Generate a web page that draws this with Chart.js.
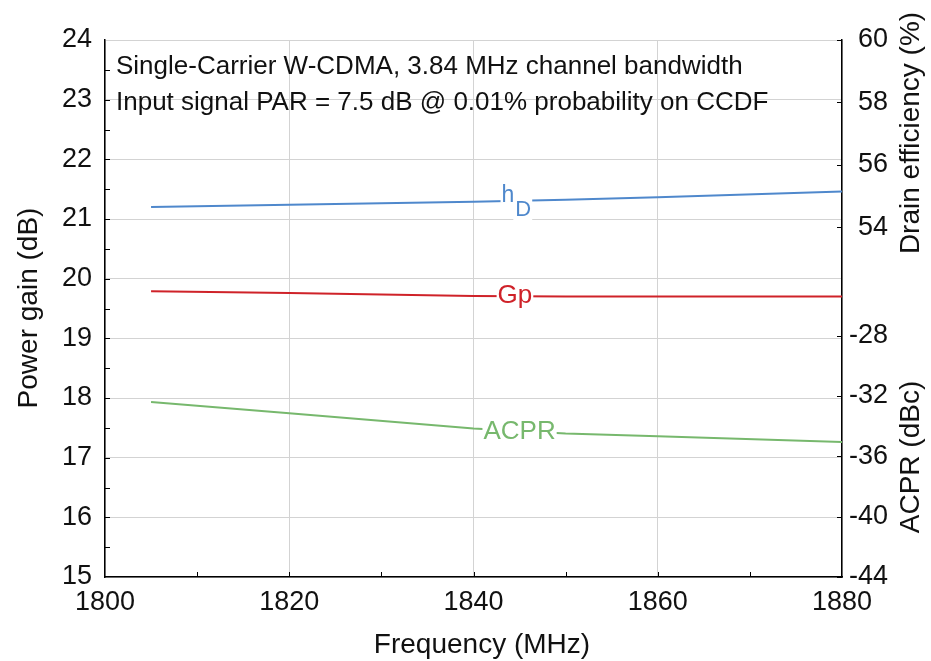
<!DOCTYPE html>
<html>
<head>
<meta charset="utf-8">
<script src="https://cdn.jsdelivr.net/npm/chart.js@4"></script>
<style>
  html, body { margin: 0; padding: 0; background: #fff; }
  #wrap { width: 931px; height: 661px; }
</style>
</head>
<body>
<div id="wrap"><canvas id="myChart" width="931" height="661"></canvas></div>
<script>
// frequency points (MHz)
var freq = [1805, 1820, 1840, 1850, 1860, 1880];
// power gain (dB)
var gain = [19.79, 19.76, 19.71, 19.70, 19.70, 19.70];
// drain efficiency (%)
var efficiency = [54.65, 54.72, 54.82, 54.88, 54.96, 55.15];
// ACPR (dBc)
var acpr = [-32.40, -33.15, -34.15, -34.48, -34.67, -35.05];

var freqTicks = [1800, 1820, 1840, 1860, 1880];
var gainTicks = [15, 16, 17, 18, 19, 20, 21, 22, 23, 24];
var effTicks = [54, 56, 58, 60];
var acprTicks = [-44, -40, -36, -32, -28];

var notes = ['Single-Carrier W-CDMA, 3.84 MHz channel bandwidth',
             'Input signal PAR = 7.5 dB @ 0.01% probability on CCDF'];

var EFF_MIN = 42.8, EFF_MAX = 60;
var ACPR_MIN = -44, ACPR_MAX = -8.4;
function effToAcpr(e) {
    return ACPR_MIN + (e - EFF_MIN) / (EFF_MAX - EFF_MIN) * (ACPR_MAX - ACPR_MIN);
}

var FONT = '"Liberation Sans", Arial, sans-serif';
var blue = '#4f88cc', red = '#cf2229', green = '#77b86d';

function pts(ys) {
    var out = [];
    for (var i = 0; i < freq.length; i++) out.push({x: freq[i], y: ys[i]});
    return out;
}

// y pixel of a dataset line at a given x pixel
function lineY(meta, px) {
    var p = meta.data;
    for (var i = 0; i < p.length - 1; i++) {
        if (px >= p[i].x && px <= p[i + 1].x) {
            var t = (px - p[i].x) / (p[i + 1].x - p[i].x);
            return p[i].y + t * (p[i + 1].y - p[i].y);
        }
    }
    return p[p.length - 1].y;
}

var decor = {
    id: 'decor',
    afterDatasetsDraw: function(chart) {
        var ctx = chart.ctx;
        var a = chart.chartArea;
        var sx = chart.scales.x, sy = chart.scales.y, sr = chart.scales.yR;
        ctx.save();

        // inward minor ticks
        ctx.strokeStyle = '#000';
        ctx.lineWidth = 1;
        ctx.beginPath();
        for (var g = 15.5; g < 24; g += 0.5) {
            var y = Math.round(sy.getPixelForValue(g)) + 0.5;
            ctx.moveTo(a.left, y); ctx.lineTo(a.left + 5, y);
        }
        for (var f = 1810; f < 1880; f += 10) {
            var x = Math.round(sx.getPixelForValue(f)) + 0.5;
            ctx.moveTo(x, a.bottom); ctx.lineTo(x, a.bottom - 5);
        }
        for (var k = 0; k < sr.ticks.length; k++) {
            var yr = Math.round(sr.getPixelForValue(sr.ticks[k].value)) + 0.5;
            ctx.moveTo(a.right, yr); ctx.lineTo(a.right - 5, yr);
        }
        ctx.stroke();

        ctx.textBaseline = 'alphabetic';
        ctx.font = '26px ' + FONT;

        // Gp
        var gx = sx.getPixelForValue(1844.5);
        var gy = lineY(chart.getDatasetMeta(0), gx);
        var w = ctx.measureText('Gp').width;
        ctx.fillStyle = '#fff';
        ctx.fillRect(gx - w / 2 - 1, gy - 12, w + 2, 26);
        ctx.fillStyle = red;
        ctx.textAlign = 'center';
        ctx.fillText('Gp', gx, gy + 7);

        // ACPR
        var ax = sx.getPixelForValue(1845);
        var ay = lineY(chart.getDatasetMeta(2), ax);
        var wa = ctx.measureText('ACPR').width;
        ctx.fillStyle = '#fff';
        ctx.fillRect(ax - wa / 2 - 1, ay - 12, wa + 2, 26);
        ctx.fillStyle = green;
        ctx.fillText('ACPR', ax, ay + 8);

        // hD (efficiency)
        var ex = sx.getPixelForValue(1844.6);
        var ey = lineY(chart.getDatasetMeta(1), ex);
        ctx.font = '23px ' + FONT;
        var wh = ctx.measureText('h').width;
        ctx.font = '22px ' + FONT;
        var wd = ctx.measureText('D').width;
        var x0 = ex - (wh + wd) / 2;
        ctx.fillStyle = '#fff';
        ctx.fillRect(x0 - 1, ey - 4, wh + 2, 6);
        ctx.fillRect(x0 + wh - 1, ey - 4, wd + 3, 24);
        ctx.fillStyle = blue;
        ctx.textAlign = 'left';
        ctx.font = '23px ' + FONT;
        ctx.fillText('h', x0, ey + 1);
        ctx.font = '22px ' + FONT;
        ctx.fillText('D', x0 + wh + 1, ey + 15);

        // notes
        ctx.fillStyle = '#111';
        ctx.font = '26px ' + FONT;
        ctx.fillText(notes[0], 116, 74);
        ctx.fillText(notes[1], 116, 110);

        // axis titles
        ctx.font = '28px ' + FONT;
        ctx.textAlign = 'center';
        ctx.textBaseline = 'middle';
        ctx.fillText('Frequency (MHz)', 482, 645);
        ctx.save();
        ctx.translate(29, 308);
        ctx.rotate(-Math.PI / 2);
        ctx.fillText('Power gain (dB)', 0, 0);
        ctx.restore();
        ctx.save();
        ctx.translate(911, 133);
        ctx.rotate(-Math.PI / 2);
        ctx.fillText('Drain efficiency (%)', 0, 0);
        ctx.restore();
        ctx.save();
        ctx.translate(911, 457);
        ctx.rotate(-Math.PI / 2);
        ctx.fillText('ACPR (dBc)', 0, 0);
        ctx.restore();
        ctx.restore();
    }
};

var ctx = document.getElementById('myChart');
var myChart = new Chart(ctx, {
    type: 'line',
    data: {
        datasets: [{
            label: 'Gp',
            data: pts(gain),
            yAxisID: 'y',
            borderColor: red,
            borderWidth: 2,
            pointRadius: 0,
            fill: false
        }, {
            label: 'hD',
            data: pts(efficiency),
            yAxisID: 'yE',
            borderColor: blue,
            borderWidth: 2,
            pointRadius: 0,
            fill: false
        }, {
            label: 'ACPR',
            data: pts(acpr),
            yAxisID: 'yR',
            borderColor: green,
            borderWidth: 2,
            pointRadius: 0,
            fill: false
        }]
    },
    options: {
        responsive: false,
        animation: false,
        events: [],
        layout: { padding: { top: 40, left: 0, right: 43, bottom: 0 } },
        plugins: {
            legend: { display: false },
            tooltip: { enabled: false }
        },
        scales: {
            x: {
                type: 'linear',
                min: 1800,
                max: 1880,
                afterBuildTicks: function(axis) {
                    axis.ticks = freqTicks.map(function(v) { return {value: v}; });
                },
                afterFit: function(axis) { axis.height = 84; },
                grid: { color: '#d3d3d3', lineWidth: 1, drawTicks: false },
                border: { color: '#000', width: 1.5 },
                ticks: {
                    color: '#111', font: { family: FONT, size: 27 }, padding: 9, maxRotation: 0,
                    callback: function(v) { return String(v); }
                }
            },
            y: {
                position: 'left',
                min: 15,
                max: 24,
                afterBuildTicks: function(axis) {
                    axis.ticks = gainTicks.map(function(v) { return {value: v}; });
                },
                afterFit: function(axis) { axis.width = 105; },
                grid: { color: '#d3d3d3', lineWidth: 1, drawTicks: false },
                border: { color: '#000', width: 1.5 },
                ticks: { color: '#111', font: { family: FONT, size: 27 }, padding: 13 }
            },
            yE: {
                display: false,
                min: EFF_MIN,
                max: EFF_MAX
            },
            yR: {
                position: 'right',
                min: ACPR_MIN,
                max: ACPR_MAX,
                afterBuildTicks: function(axis) {
                    var t = acprTicks.map(function(v) { return {value: v}; });
                    effTicks.forEach(function(e) { t.push({value: effToAcpr(e), eff: e}); });
                    axis.ticks = t;
                },
                afterFit: function(axis) { axis.width = 46; },
                grid: { drawOnChartArea: false, drawTicks: false },
                border: { color: '#000', width: 1.5 },
                ticks: {
                    color: '#111',
                    font: { family: FONT, size: 27 },
                    padding: 8,
                    crossAlign: 'far',
                    autoSkip: false,
                    callback: function(value, index, ticks) {
                        return ticks[index].eff !== undefined ? ticks[index].eff : value;
                    }
                }
            }
        }
    },
    plugins: [decor]
});
</script>
</body>
</html>
